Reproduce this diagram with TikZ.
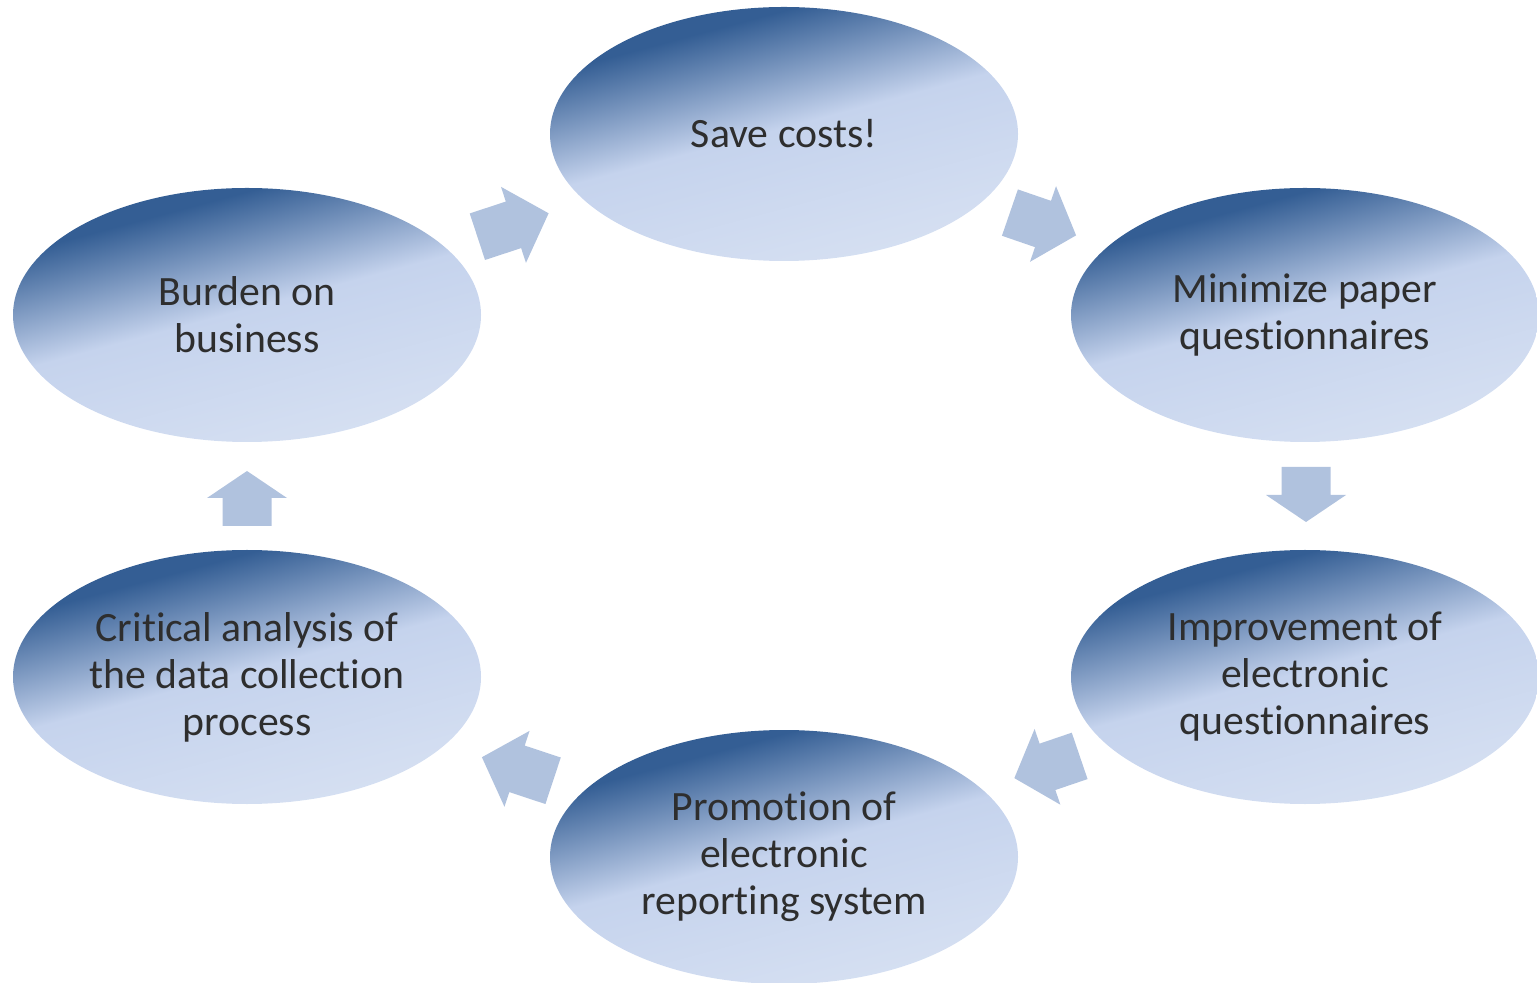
\documentclass[tikz,border=0pt]{standalone}
\usepackage{fontspec}
\setmainfont{Carlito}[Ligatures=NoCommon]
\usetikzlibrary{shapes.geometric}

\definecolor{ovaldark}{HTML}{345E94}
\definecolor{ovallight}{HTML}{C5D3ED}
\definecolor{ovalpale}{HTML}{D6E0F2}
\definecolor{arrowfill}{HTML}{B0C2DE}
\definecolor{labeltext}{HTML}{2E2E2E}

% dark upper rim fading to pale blue towards the lower right
\pgfdeclarehorizontalshading{ovalshade}{100bp}{%
  color(0bp)=(ovaldark); color(30bp)=(ovaldark); color(49bp)=(ovallight);
  color(75bp)=(ovalpale); color(100bp)=(ovalpale)}

% block arrow: centre x, centre y, direction, length, head length
\newcommand{\blockarr}[5]{%
  \fill[arrowfill, shift={(#1,#2)}, rotate=#3]
    (-#4/2,-24.5) -- (#4/2-#5,-24.5) -- (#4/2-#5,-40) -- (#4/2,0)
    -- (#4/2-#5,40) -- (#4/2-#5,24.5) -- (-#4/2,24.5) -- cycle;}

\begin{document}
\begin{tikzpicture}[x=0.75pt, y=0.75pt,
  oval/.style={ellipse, minimum width=351pt, minimum height=190.5pt,
    inner sep=0pt, shading=ovalshade, shading angle=-75,
    text=labeltext, align=center,
    font=\fontsize{31.3pt}{35.25pt}\selectfont}]
  \useasboundingbox (0,0) rectangle (1537,982);

  \node[oval] (save)    at (784,848)  {Save costs!};
  \node[oval] (paper)   at (1305,667) {Minimize paper\\questionnaires};
  \node[oval] (improve) at (1305,305) {Improvement of\\electronic\\questionnaires};
  \node[oval] (promote) at (784,125)  {Promotion of\\electronic\\reporting system};
  \node[oval] (review)  at (247,305)  {Critical analysis of\\the data collection\\process};
  \node[oval] (burden)  at (247,667)  {Burden on\\business};

  % cycle arrows
  \blockarr{513}{757}{18.2}{75}{37}
  \blockarr{1043}{758}{-19}{70}{35}
  \blockarr{1306}{487.5}{-90}{55}{27}
  \blockarr{1047}{215}{198.8}{69}{35}
  \blockarr{517.5}{213}{161.7}{75}{37}
  \blockarr{247}{483.5}{90}{55}{27}
\end{tikzpicture}
\end{document}
